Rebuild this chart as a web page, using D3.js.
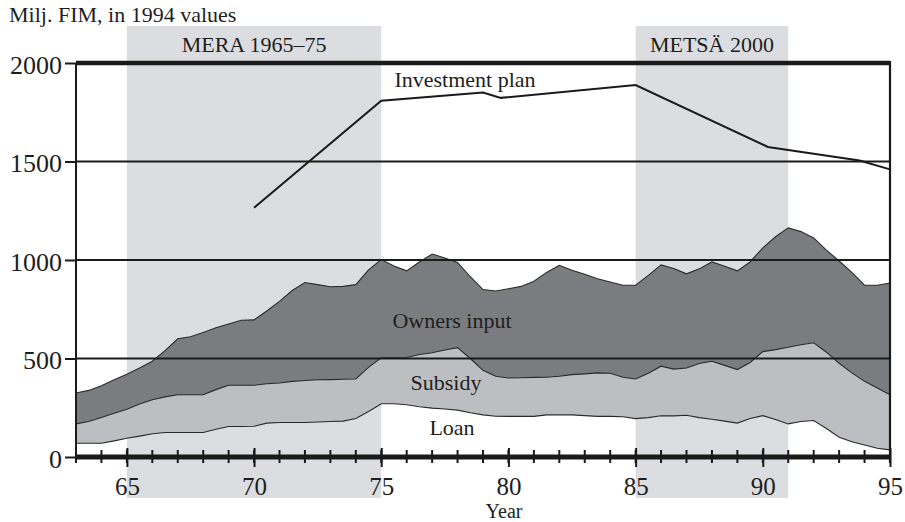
<!DOCTYPE html>
<html><head><meta charset="utf-8">
<script src="https://cdn.jsdelivr.net/npm/d3@7"></script>
<style>
body{margin:0;background:#fff}
svg{display:block}
text{font-family:"Liberation Serif","Times New Roman",serif;fill:#1e1e1e}
</style>
</head><body>
<svg id="c" width="905" height="522"></svg>
<script>
// ---- data ----
const years = [63,63.5,64,64.5,65,65.5,66,66.5,67,67.5,68,68.5,69,69.5,70,70.5,71,71.5,72,72.5,73,73.5,74,74.5,75,75.5,76,76.5,77,77.5,78,78.5,79,79.5,80,80.5,81,81.5,82,82.5,83,83.5,84,84.5,85,85.5,86,86.5,87,87.5,88,88.5,89,89.5,90,90.5,91,91.5,92,92.5,93,93.5,94,94.5,95];
const loan = [70,70,70,82,95,106,118,124,124,124,124,141,155,155,156,172,175,175,175,178,180,182,195,231,270,270,265,255,248,244,238,225,214,207,206,206,206,214,214,214,210,206,206,204,195,200,209,209,212,200,192,182,172,195,210,190,168,180,185,145,100,77,61,44,36];
const subsidy = [98,110,130,140,147,163,173,181,192,192,192,201,209,209,208,200,201,209,213,214,213,213,201,224,233,233,240,265,281,299,317,275,226,203,195,196,198,191,196,204,212,221,219,201,201,225,252,237,240,275,294,283,272,285,325,355,389,390,395,387,376,350,323,306,280];
const owners = [157,158,162,170,178,183,195,235,284,294,316,314,311,330,332,369,414,461,498,483,471,471,479,495,499,467,440,470,501,467,433,415,410,433,453,464,488,532,563,530,506,478,463,467,476,497,514,511,478,480,504,503,501,510,527,573,606,574,532,518,519,510,488,522,567];
const seriesNames = ["Loan","Subsidy","Owners input"];

const planYears = [70,75,79,79.7,85,90.2,93.8,95];
const planValues = [1265,1808,1850,1823,1888,1574,1505,1460];

const bandNames = ["MERA 1965–75","METSÄ 2000"];
const bandStart = [65,85];
const bandEnd = [75,91];

const yTicks = [0,500,1000,1500,2000];
const yTickLabels = ["0","500","1000","1500","2000"];
const xMajor = [65,70,75,80,85,90,95];
const xMajorLabels = ["65","70","75","80","85","90","95"];
const xMinor = [63,64,65,66,67,68,69,70,71,72,73,74,75,76,77,78,79,80,81,82,83,84,85,86,87,88,89,90,91,92,93,94,95];

const titleText = "Milj. FIM, in 1994 values";
const xTitle = "Year";
const planLabel = "Investment plan";

// ---- drawing ----
const svg = d3.select("#c");
const x = d3.scaleLinear().domain([63,95]).range([76,890]);
const y = d3.scaleLinear().domain([0,2000]).range([457,63]);

// shaded periods
const bands = bandNames.map((n,i)=>({name:n,s:bandStart[i],e:bandEnd[i]}));
svg.selectAll("rect.band").data(bands).join("rect")
  .attr("x",d=>x(d.s)).attr("width",d=>x(d.e)-x(d.s))
  .attr("y",26).attr("height",472).attr("fill","#dcdde0");
svg.selectAll("text.band").data(bands).join("text")
  .attr("x",d=>(x(d.s)+x(d.e))/2).attr("y",52)
  .attr("text-anchor","middle").style("font-size","22px").text(d=>d.name);

// stacked areas
const rows = years.map((yr,i)=>({year:yr,"Loan":loan[i],"Subsidy":subsidy[i],"Owners input":owners[i]}));
const stack = d3.stack().keys(seriesNames)(rows);
const fills = {"Loan":"none","Subsidy":"#bdbec1","Owners input":"#7b7c80"};
const area = d3.area().x(d=>x(d.data.year)).y0(d=>y(d[0])).y1(d=>y(d[1]));
const topLine = d3.line().x(d=>x(d.data.year)).y(d=>y(d[1]));
svg.selectAll("path.area").data(stack).join("path")
  .attr("d",area).attr("fill",d=>fills[d.key]);
svg.selectAll("path.top").data(stack).join("path")
  .attr("d",topLine).attr("fill","none").attr("stroke","#2a2a2a").attr("stroke-width",1.1);

// gridlines
svg.selectAll("line.grid").data(yTicks).join("line")
  .attr("x1",x(63)).attr("x2",x(95))
  .attr("y1",d=>y(d)).attr("y2",d=>y(d))
  .attr("stroke","#1a1a1a")
  .attr("stroke-width",d=>d===0?5:(d===2000?4.5:2));

// y axis
const yAxis = d3.axisLeft(y).tickValues(yTicks).tickFormat((d,i)=>yTickLabels[i]).tickSize(11).tickPadding(3);
const gy = svg.append("g").attr("transform",`translate(${x(63)},0)`).call(yAxis);
gy.select(".domain").remove();
gy.selectAll(".tick line").attr("stroke","#1a1a1a").attr("stroke-width",2);
gy.selectAll(".tick text").style("font-size","26px").attr("fill","#1e1e1e")
  .style("font-family","'Liberation Serif','Times New Roman',serif").attr("dy","0.4em");

// left & right frame
svg.append("line").attr("x1",x(63)).attr("x2",x(63)).attr("y1",y(2000)).attr("y2",y(0)+6)
  .attr("stroke","#1a1a1a").attr("stroke-width",2);
svg.append("line").attr("x1",x(95)).attr("x2",x(95)).attr("y1",y(2000)-2).attr("y2",y(0)+6)
  .attr("stroke","#1a1a1a").attr("stroke-width",2.2);

// x axis ticks
svg.selectAll("line.minor").data(xMinor).join("line")
  .attr("x1",d=>x(d)).attr("x2",d=>x(d))
  .attr("y1",y(0)-7).attr("y2",y(0)+6)
  .attr("stroke","#1a1a1a").attr("stroke-width",2);
const xAxis = d3.axisBottom(x).tickValues(xMajor).tickFormat((d,i)=>xMajorLabels[i]).tickSize(10).tickPadding(10);
const gx = svg.append("g").attr("transform",`translate(0,${y(0)})`).call(xAxis);
gx.select(".domain").remove();
gx.selectAll(".tick line").attr("stroke","#1a1a1a").attr("stroke-width",2).attr("y1",-9);
gx.selectAll(".tick text").style("font-size","25px").attr("fill","#1e1e1e")
  .style("font-family","'Liberation Serif','Times New Roman',serif");

// investment plan line
const planPts = planYears.map((yr,i)=>[yr,planValues[i]]);
svg.append("path").datum(planPts)
  .attr("d",d3.line().x(d=>x(d[0])).y(d=>y(d[1])))
  .attr("fill","none").attr("stroke","#1a1a1a").attr("stroke-width",2);

// labels
svg.append("text").attr("x",9).attr("y",22).style("font-size","22px").text(titleText);
svg.append("text").attr("x",504).attr("y",518).attr("text-anchor","middle").style("font-size","20px").text(xTitle);
svg.append("text").attr("x",465).attr("y",87).attr("text-anchor","middle").style("font-size","22px").text(planLabel);
const areaLabels = [["Owners input",452,328],["Subsidy",446,390],["Loan",452,435]];
svg.selectAll("text.al").data(areaLabels).join("text")
  .attr("x",d=>d[1]).attr("y",d=>d[2]).attr("text-anchor","middle")
  .style("font-size","22px").text(d=>d[0]);
</script>
</body></html>
